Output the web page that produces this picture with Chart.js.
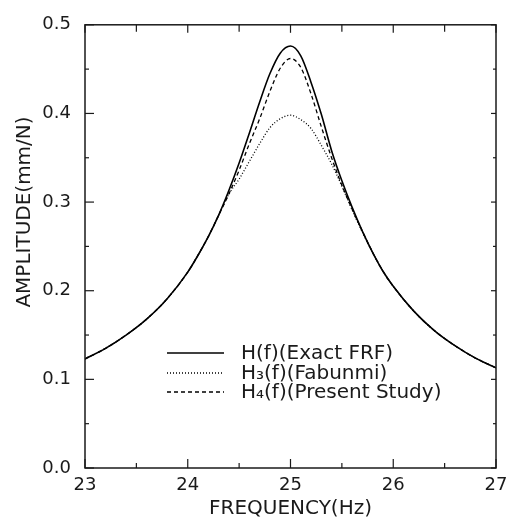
<!DOCTYPE html>
<html lang="en">
<head>
    <meta charset="UTF-8">
    <title>FRF amplitude</title>
    <script src="https://cdn.jsdelivr.net/npm/chart.js"></script>
    <style>
        body {
            margin: 0;
            padding: 0;
            background: #fff;
        }
    </style>
</head>
<body>
    <canvas id="frf-chart" width="519" height="529"></canvas>

    <script type="text/javascript">
        // frequency (Hz)
        var freq = [23.0, 23.2, 23.4, 23.6, 23.8, 24.0, 24.1, 24.2, 24.3, 24.4, 24.5, 24.6, 24.7, 24.8, 24.9,
            25.0, 25.1, 25.2, 25.3, 25.4, 25.5, 25.6, 25.7, 25.8, 25.9, 26.0, 26.2, 26.4, 26.6, 26.8, 27.0];

        // amplitude (mm/N)
        var exactFRF = [0.123, 0.135, 0.150, 0.168, 0.191, 0.221, 0.240, 0.261, 0.285, 0.313, 0.344, 0.378, 0.413, 0.445, 0.468,
            0.476, 0.465, 0.435, 0.399, 0.358, 0.324, 0.294, 0.267, 0.243, 0.222, 0.205, 0.177, 0.155, 0.138, 0.124, 0.113];
        var fabunmi = [0.123, 0.135, 0.150, 0.168, 0.191, 0.221, 0.240, 0.261, 0.285, 0.309, 0.326, 0.346, 0.366, 0.384, 0.394,
            0.398, 0.393, 0.383, 0.364, 0.343, 0.318, 0.291, 0.266, 0.243, 0.222, 0.205, 0.177, 0.155, 0.138, 0.124, 0.113];
        var present = [0.123, 0.135, 0.150, 0.168, 0.191, 0.221, 0.240, 0.261, 0.285, 0.309, 0.336, 0.366, 0.394, 0.425, 0.451,
            0.462, 0.452, 0.422, 0.385, 0.350, 0.319, 0.292, 0.267, 0.243, 0.222, 0.205, 0.177, 0.155, 0.138, 0.124, 0.113];

        var seriesNames = ["H(f)(Exact FRF)", "H\u2083(f)(Fabunmi)", "H\u2084(f)(Present Study)"];

        var xTicks = [23, 24, 25, 26, 27];
        var yTicks = [0.0, 0.1, 0.2, 0.3, 0.4, 0.5];

        var ink = '#1a1a1a';
        var fontName = "'DejaVu Sans', sans-serif";

        function toPoints(values) {
            return freq.map(function (f, i) { return { x: f, y: values[i] }; });
        }

        function line(ctx, x1, y1, x2, y2) {
            ctx.beginPath();
            ctx.moveTo(x1, y1);
            ctx.lineTo(x2, y2);
            ctx.stroke();
        }

        // frame, inward ticks on all sides, legend and y title
        var framePlugin = {
            id: 'frame',
            afterDraw: function (chart) {
                var ctx = chart.ctx;
                var a = chart.chartArea;
                var x = chart.scales.x;
                var y = chart.scales.y;
                ctx.save();
                ctx.strokeStyle = ink;
                ctx.lineWidth = 1.5;
                ctx.strokeRect(a.left, a.top, a.right - a.left, a.bottom - a.top);

                ctx.lineWidth = 1.2;
                for (var i = 0; i < xTicks.length; i++) {
                    var px = x.getPixelForValue(xTicks[i]);
                    line(ctx, px, a.bottom, px, a.bottom - 9);
                    line(ctx, px, a.top, px, a.top + 8);
                    if (i < xTicks.length - 1) {
                        var pm = x.getPixelForValue(xTicks[i] + 0.5);
                        line(ctx, pm, a.bottom, pm, a.bottom - 5);
                        line(ctx, pm, a.top, pm, a.top + 7);
                    }
                }
                for (var j = 0; j < yTicks.length; j++) {
                    var py = y.getPixelForValue(yTicks[j]);
                    line(ctx, a.left, py, a.left + 9, py);
                    line(ctx, a.right, py, a.right - 5, py);
                    if (j < yTicks.length - 1) {
                        var qm = y.getPixelForValue(yTicks[j] + 0.05);
                        line(ctx, a.left, qm, a.left + 4, qm);
                        line(ctx, a.right, qm, a.right - 3, qm);
                    }
                }

                // legend
                var rows = [353, 373, 392];
                ctx.font = "20px " + fontName;
                ctx.fillStyle = ink;
                ctx.textBaseline = 'middle';
                ctx.textAlign = 'left';
                chart.data.datasets.forEach(function (ds, k) {
                    ctx.strokeStyle = '#000';
                    ctx.lineWidth = ds.borderWidth;
                    ctx.setLineDash(ds.borderDash || []);
                    line(ctx, 167, rows[k], 224, rows[k]);
                    ctx.setLineDash([]);
                    ctx.fillText(ds.label, 241, rows[k] + 1);
                });

                // y axis title
                ctx.translate(25, 212);
                ctx.rotate(-Math.PI / 2);
                ctx.textAlign = 'center';
                ctx.fillText("AMPLITUDE(mm/N)", 0, 0);
                ctx.restore();
            }
        };

        var ctx = document.getElementById('frf-chart').getContext('2d');
        var chart = new Chart(ctx, {
            type: 'line',
            data: {
                datasets: [{
                    label: seriesNames[0],
                    data: toPoints(exactFRF),
                    borderColor: '#000',
                    borderWidth: 1.6,
                    pointRadius: 0,
                    cubicInterpolationMode: 'monotone',
                    fill: false
                }, {
                    label: seriesNames[1],
                    data: toPoints(fabunmi),
                    borderColor: '#000',
                    borderWidth: 1.3,
                    borderDash: [1, 2],
                    pointRadius: 0,
                    cubicInterpolationMode: 'monotone',
                    fill: false
                }, {
                    label: seriesNames[2],
                    data: toPoints(present),
                    borderColor: '#000',
                    borderWidth: 1.3,
                    borderDash: [4, 3],
                    pointRadius: 0,
                    cubicInterpolationMode: 'monotone',
                    fill: false
                }]
            },
            options: {
                responsive: false,
                animation: false,
                devicePixelRatio: 1,
                layout: { padding: { top: 15, right: 23, left: 0, bottom: 0 } },
                plugins: {
                    legend: { display: false },
                    tooltip: { enabled: false }
                },
                scales: {
                    x: {
                        type: 'linear',
                        min: 23,
                        max: 27,
                        afterFit: function (s) { s.height = 61; },
                        afterBuildTicks: function (s) { s.ticks = xTicks.map(function (v) { return { value: v }; }); },
                        grid: { display: false, drawTicks: false },
                        border: { display: false },
                        ticks: {
                            padding: 7,
                            color: ink,
                            font: { family: fontName, size: 18 },
                            maxRotation: 0,
                            callback: function (v) { return String(v); }
                        },
                        title: {
                            display: true,
                            text: "FREQUENCY(Hz)",
                            color: ink,
                            font: { family: fontName, size: 20 },
                            padding: { top: 0, bottom: 8 }
                        }
                    },
                    y: {
                        min: 0,
                        max: 0.5,
                        afterFit: function (s) { s.width = 85; },
                        afterBuildTicks: function (s) { s.ticks = yTicks.map(function (v) { return { value: v }; }); },
                        grid: { display: false, drawTicks: false },
                        border: { display: false },
                        ticks: {
                            padding: 14,
                            color: ink,
                            font: { family: fontName, size: 18 },
                            callback: function (v) { return v.toFixed(1); }
                        }
                    }
                }
            },
            plugins: [framePlugin]
        });
    </script>
</body>
</html>
